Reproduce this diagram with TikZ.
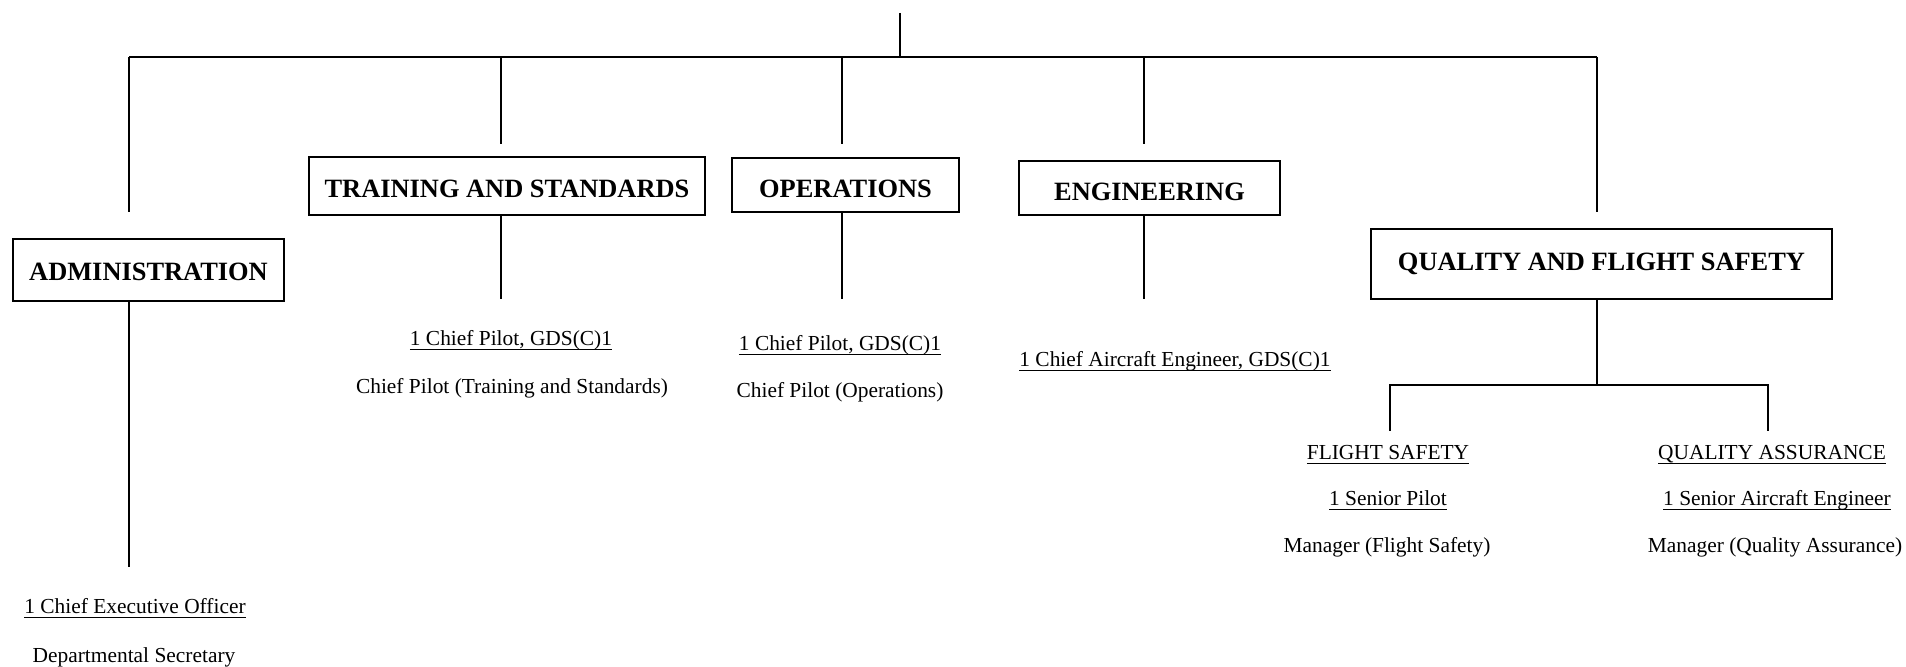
\documentclass[tikz,border=0pt]{standalone}
\usepackage{fontspec}
\setmainfont{Liberation Serif}
\newcommand{\ulin}[1]{\setbox0\hbox{#1}\rlap{\rule[-1.8pt]{\wd0}{0.5pt}}\box0}
\begin{document}
\begin{tikzpicture}[x=0.5pt,y=-0.5pt,
  box/.style={draw,line width=0.7pt,inner sep=0pt,font=\fontsize{13.2}{15}\selectfont\bfseries},
  lbl/.style={anchor=base,inner sep=0pt,font=\fontsize{10.7}{13}\selectfont},
  conn/.style={line width=0.7pt},
  bus/.style={line width=1pt}]
\useasboundingbox (0,0) rectangle (1906,667);
% boxes
\node[box,minimum width=135.5pt,minimum height=31pt,text height=10.1pt,text depth=0pt] (adm) at (148.5,270) {ADMINISTRATION};
\node[box,minimum width=198pt,minimum height=29pt,text height=11.2pt,text depth=0pt] (trn) at (507,186) {TRAINING AND STANDARDS};
\node[box,minimum width=113.5pt,minimum height=27pt,text height=12.7pt,text depth=0pt] (ops) at (845.5,185) {OPERATIONS};
\node[box,minimum width=130.5pt,minimum height=27pt,text height=12.7pt,text depth=0pt] (eng) at (1149.5,188) {ENGINEERING};
\node[box,minimum width=230.5pt,minimum height=35pt] (qfs) at (1601.5,264) {QUALITY AND FLIGHT SAFETY};
% coordinates
\coordinate (top) at (900,13);
\coordinate (topj) at (900,57);
\coordinate (busL) at (129,57);
\coordinate (busR) at (1597,57);
\coordinate (trnJ) at (501,57);
\coordinate (opsJ) at (842,57);
\coordinate (engJ) at (1144,57);
\coordinate (admT) at (129,212);
\coordinate (trnT) at (501,144);
\coordinate (opsT) at (842,144);
\coordinate (engT) at (1144,144);
\coordinate (qfsT) at (1597,212);
\coordinate (admB) at (129,567);
\coordinate (trnB) at (501,299);
\coordinate (opsB) at (842,299);
\coordinate (engB) at (1144,299);
\coordinate (qfsJ) at (1597,385);
\coordinate (fsJ) at (1390,385);
\coordinate (qaJ) at (1768,385);
\coordinate (fsB) at (1390,431);
\coordinate (qaB) at (1768,431);
% connectors
\draw[conn] (top) -- (topj);
\draw[bus] (busL) -- (busR);
\draw[conn] (busL) -- (admT);
\draw[conn] (trnJ) -- (trnT);
\draw[conn] (opsJ) -- (opsT);
\draw[conn] (engJ) -- (engT);
\draw[conn] (busR) -- (qfsT);
\draw[conn] (adm.south -| admB) -- (admB);
\draw[conn] (trn.south -| trnB) -- (trnB);
\draw[conn] (ops.south -| opsB) -- (opsB);
\draw[conn] (eng.south -| engB) -- (engB);
\draw[conn] (qfs.south -| qfsJ) -- (qfsJ);
\draw[bus] (fsB) -- (fsJ) -- (qaJ) -- (qaB);
% labels
\node[lbl] (t1) at (511,346) {\ulin{1 Chief Pilot, GDS(C)1}};
\node[lbl] (t2) at (512,394) {Chief Pilot (Training and Standards)};
\node[lbl] (o1) at (840,351) {\ulin{1 Chief Pilot, GDS(C)1}};
\node[lbl] (o2) at (840,398) {Chief Pilot (Operations)};
\node[lbl] (e1) at (1175,367) {\ulin{1 Chief Aircraft Engineer, GDS(C)1}};
\node[lbl] (a1) at (135,614) {\ulin{1 Chief Executive Officer}};
\node[lbl] (a2) at (134,662) {Departmental Secretary};
\node[lbl] (f1) at (1388,460) {\ulin{FLIGHT SAFETY}};
\node[lbl] (f2) at (1388,506) {\ulin{1 Senior Pilot}};
\node[lbl] (f3) at (1387,553) {Manager (Flight Safety)};
\node[lbl] (q1) at (1772,460) {\ulin{QUALITY ASSURANCE}};
\node[lbl] (q2) at (1777,506) {\ulin{1 Senior Aircraft Engineer}};
\node[lbl] (q3) at (1775,553) {Manager (Quality Assurance)};
\end{tikzpicture}
\end{document}
